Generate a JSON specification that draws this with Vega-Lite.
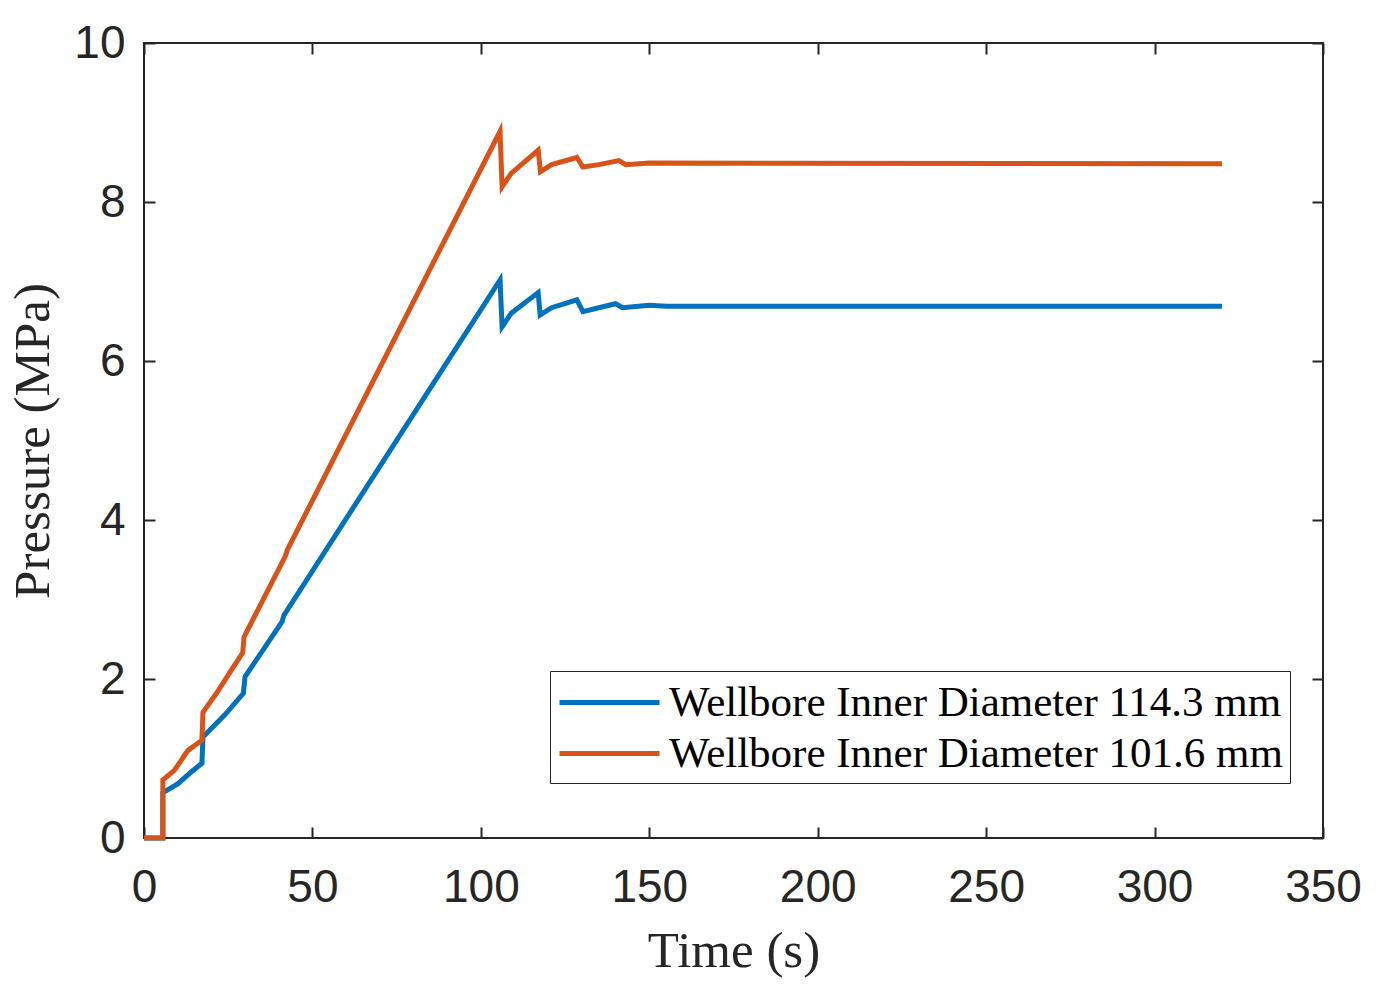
{
  "$schema": "https://vega.github.io/schema/vega-lite/v6.json",
  "autosize": {"type": "none"},
  "width": 1179,
  "height": 795,
  "padding": {"left": 144, "top": 43, "right": 55, "bottom": 161},
  "background": "white",
  "config": {
    "view": {"stroke": "#262626", "strokeWidth": 2},
    "axis": {"grid": false, "domain": false, "tickColor": "#262626", "tickWidth": 2, "tickSize": -11, "labelFlush": false,
             "labelFont": "Liberation Sans", "labelFontSize": 46, "labelColor": "#262626",
             "titleFont": "Liberation Serif", "titleFontSize": 51, "titleFontWeight": "normal", "titleColor": "#262626"}
  },
  "data": {"values": [
    {"t": 0, "p": 0, "s": "Wellbore Inner Diameter 114.3 mm"},
    {"t": 5.6, "p": 0, "s": "Wellbore Inner Diameter 114.3 mm"},
    {"t": 5.6, "p": 0.57, "s": "Wellbore Inner Diameter 114.3 mm"},
    {"t": 10, "p": 0.68, "s": "Wellbore Inner Diameter 114.3 mm"},
    {"t": 14, "p": 0.83, "s": "Wellbore Inner Diameter 114.3 mm"},
    {"t": 17.2, "p": 0.94, "s": "Wellbore Inner Diameter 114.3 mm"},
    {"t": 17.5, "p": 1.27, "s": "Wellbore Inner Diameter 114.3 mm"},
    {"t": 24, "p": 1.55, "s": "Wellbore Inner Diameter 114.3 mm"},
    {"t": 29.5, "p": 1.82, "s": "Wellbore Inner Diameter 114.3 mm"},
    {"t": 30, "p": 2.03, "s": "Wellbore Inner Diameter 114.3 mm"},
    {"t": 41, "p": 2.72, "s": "Wellbore Inner Diameter 114.3 mm"},
    {"t": 41.5, "p": 2.8, "s": "Wellbore Inner Diameter 114.3 mm"},
    {"t": 105.7, "p": 7.02, "s": "Wellbore Inner Diameter 114.3 mm"},
    {"t": 106.3, "p": 6.43, "s": "Wellbore Inner Diameter 114.3 mm"},
    {"t": 109, "p": 6.6, "s": "Wellbore Inner Diameter 114.3 mm"},
    {"t": 117, "p": 6.86, "s": "Wellbore Inner Diameter 114.3 mm"},
    {"t": 117.6, "p": 6.58, "s": "Wellbore Inner Diameter 114.3 mm"},
    {"t": 121, "p": 6.67, "s": "Wellbore Inner Diameter 114.3 mm"},
    {"t": 128.5, "p": 6.77, "s": "Wellbore Inner Diameter 114.3 mm"},
    {"t": 130.3, "p": 6.62, "s": "Wellbore Inner Diameter 114.3 mm"},
    {"t": 135, "p": 6.67, "s": "Wellbore Inner Diameter 114.3 mm"},
    {"t": 140, "p": 6.72, "s": "Wellbore Inner Diameter 114.3 mm"},
    {"t": 142, "p": 6.67, "s": "Wellbore Inner Diameter 114.3 mm"},
    {"t": 150, "p": 6.7, "s": "Wellbore Inner Diameter 114.3 mm"},
    {"t": 155, "p": 6.69, "s": "Wellbore Inner Diameter 114.3 mm"},
    {"t": 320, "p": 6.69, "s": "Wellbore Inner Diameter 114.3 mm"},
    {"t": 0, "p": 0, "s": "Wellbore Inner Diameter 101.6 mm"},
    {"t": 5.6, "p": 0, "s": "Wellbore Inner Diameter 101.6 mm"},
    {"t": 5.6, "p": 0.73, "s": "Wellbore Inner Diameter 101.6 mm"},
    {"t": 9, "p": 0.85, "s": "Wellbore Inner Diameter 101.6 mm"},
    {"t": 13, "p": 1.1, "s": "Wellbore Inner Diameter 101.6 mm"},
    {"t": 17.2, "p": 1.23, "s": "Wellbore Inner Diameter 101.6 mm"},
    {"t": 17.5, "p": 1.58, "s": "Wellbore Inner Diameter 101.6 mm"},
    {"t": 22, "p": 1.85, "s": "Wellbore Inner Diameter 101.6 mm"},
    {"t": 26.5, "p": 2.15, "s": "Wellbore Inner Diameter 101.6 mm"},
    {"t": 29.3, "p": 2.33, "s": "Wellbore Inner Diameter 101.6 mm"},
    {"t": 29.7, "p": 2.53, "s": "Wellbore Inner Diameter 101.6 mm"},
    {"t": 42, "p": 3.55, "s": "Wellbore Inner Diameter 101.6 mm"},
    {"t": 42.5, "p": 3.62, "s": "Wellbore Inner Diameter 101.6 mm"},
    {"t": 105.7, "p": 8.89, "s": "Wellbore Inner Diameter 101.6 mm"},
    {"t": 106.3, "p": 8.19, "s": "Wellbore Inner Diameter 101.6 mm"},
    {"t": 109, "p": 8.36, "s": "Wellbore Inner Diameter 101.6 mm"},
    {"t": 117, "p": 8.65, "s": "Wellbore Inner Diameter 101.6 mm"},
    {"t": 117.7, "p": 8.38, "s": "Wellbore Inner Diameter 101.6 mm"},
    {"t": 121, "p": 8.47, "s": "Wellbore Inner Diameter 101.6 mm"},
    {"t": 128.5, "p": 8.56, "s": "Wellbore Inner Diameter 101.6 mm"},
    {"t": 130.3, "p": 8.44, "s": "Wellbore Inner Diameter 101.6 mm"},
    {"t": 135, "p": 8.47, "s": "Wellbore Inner Diameter 101.6 mm"},
    {"t": 141, "p": 8.52, "s": "Wellbore Inner Diameter 101.6 mm"},
    {"t": 143, "p": 8.47, "s": "Wellbore Inner Diameter 101.6 mm"},
    {"t": 150, "p": 8.49, "s": "Wellbore Inner Diameter 101.6 mm"},
    {"t": 320, "p": 8.48, "s": "Wellbore Inner Diameter 101.6 mm"}
  ]},
  "layer": [
    {
      "mark": {"type": "line", "strokeWidth": 5, "strokeJoin": "miter", "interpolate": "linear"},
      "encoding": {
        "x": {"field": "t", "type": "quantitative", "scale": {"domain": [0, 350], "nice": false},
              "axis": {"orient": "bottom", "values": [0, 50, 100, 150, 200, 250, 300, 350], "labelPadding": 38, "title": "Time (s)", "titlePadding": 16}},
        "y": {"field": "p", "type": "quantitative", "scale": {"domain": [0, 10], "nice": false},
              "axis": {"orient": "left", "values": [0, 2, 4, 6, 8, 10], "labelPadding": 30, "title": "Pressure (MPa)", "titlePadding": 14}},
        "color": {"field": "s", "type": "nominal",
                  "scale": {"domain": ["Wellbore Inner Diameter 114.3 mm", "Wellbore Inner Diameter 101.6 mm"], "range": ["#0072BD", "#D95319"]},
                  "legend": {"title": null, "orient": "none", "legendX": 406, "legendY": 628,
                             "symbolType": "M-1,0H3.545", "symbolSize": 1936, "symbolStrokeWidth": 5,
                             "labelFont": "Liberation Serif", "labelFontSize": 43, "labelColor": "#000000", "labelLimit": 1000,
                             "labelOffset": 63, "rowPadding": 4, "strokeColor": "#262626", "padding": 7, "fillColor": "white"}}
      }
    },
    {
      "mark": {"type": "line", "opacity": 0},
      "encoding": {
        "x": {"field": "t", "type": "quantitative", "axis": {"orient": "top", "values": [0, 50, 100, 150, 200, 250, 300, 350], "labels": false, "title": null}},
        "y": {"field": "p", "type": "quantitative", "axis": {"orient": "right", "values": [0, 2, 4, 6, 8, 10], "labels": false, "title": null}}
      }
    }
  ],
  "resolve": {"axis": {"x": "independent", "y": "independent"}}
}
